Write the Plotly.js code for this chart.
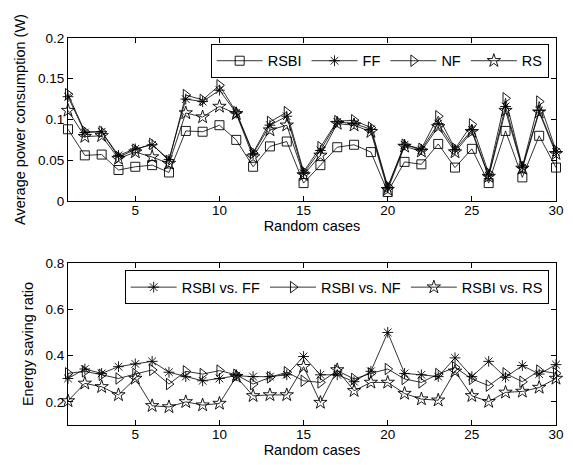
<!DOCTYPE html>
<html>
<head>
<meta charset="utf-8">
<script src="https://cdn.plot.ly/plotly-3.0.1.min.js"></script>
<style>html,body{margin:0;padding:0;background:#fff;}#chart{width:573px;height:465px;}</style>
</head>
<body>
<div id="chart"></div>
<script>
const cases = Array.from({length: 30}, (_, i) => i + 1);

const powerRSBI = [0.088,0.056,0.057,0.038,0.042,0.044,0.035,0.086,0.085,0.093,0.075,0.042,0.067,0.073,0.022,0.044,0.066,0.069,0.060,0.011,0.048,0.045,0.070,0.041,0.064,0.022,0.086,0.029,0.080,0.041];
const powerFF   = [0.128,0.084,0.085,0.056,0.064,0.069,0.051,0.125,0.122,0.136,0.108,0.058,0.093,0.104,0.034,0.062,0.097,0.095,0.088,0.016,0.069,0.063,0.095,0.063,0.087,0.031,0.116,0.041,0.111,0.060];
const powerNF   = [0.131,0.085,0.085,0.054,0.063,0.070,0.049,0.130,0.124,0.142,0.109,0.059,0.097,0.109,0.036,0.066,0.098,0.099,0.090,0.018,0.069,0.064,0.104,0.064,0.094,0.034,0.126,0.042,0.122,0.062];
const powerRS   = [0.111,0.079,0.080,0.052,0.060,0.054,0.046,0.108,0.103,0.116,0.107,0.054,0.087,0.093,0.032,0.056,0.095,0.093,0.085,0.014,0.067,0.061,0.091,0.060,0.085,0.030,0.111,0.040,0.109,0.058];

const ratioFF = [0.301,0.342,0.323,0.352,0.364,0.375,0.328,0.309,0.291,0.301,0.313,0.309,0.309,0.317,0.396,0.317,0.317,0.287,0.332,0.500,0.323,0.317,0.309,0.390,0.309,0.375,0.306,0.357,0.320,0.361];
const ratioNF = [0.323,0.332,0.317,0.301,0.320,0.338,0.277,0.332,0.320,0.335,0.317,0.277,0.306,0.328,0.291,0.284,0.335,0.299,0.323,0.342,0.299,0.284,0.320,0.349,0.299,0.270,0.323,0.287,0.335,0.323];
const ratioRS = [0.204,0.280,0.265,0.230,0.301,0.183,0.178,0.200,0.186,0.193,0.309,0.226,0.230,0.230,0.352,0.197,0.338,0.248,0.284,0.284,0.236,0.212,0.207,0.332,0.226,0.201,0.241,0.245,0.262,0.301];

const topNames = ['RSBI', 'FF', 'NF', 'RS'];
const bottomNames = ['RSBI vs. FF', 'RSBI vs. NF', 'RSBI vs. RS'];

const FONT = 'Liberation Sans, Arial, sans-serif';
function mk(sym, size) {
  return {symbol: sym, size: size, color: 'black', line: {width: 0.9, color: 'black'}};
}
const ln = {color: 'black', width: 0.8};

const traces = [
  {x: cases, y: powerRSBI, name: topNames[0], mode: 'lines+markers', line: ln, marker: mk('square-open', 9), xaxis: 'x', yaxis: 'y', legend: 'legend', cliponaxis: false},
  {x: cases, y: powerFF, name: topNames[1], mode: 'lines+markers', line: ln, marker: mk('asterisk-open', 9), xaxis: 'x', yaxis: 'y', legend: 'legend', cliponaxis: false},
  {x: cases, y: powerNF, name: topNames[2], mode: 'lines+markers', line: ln, marker: mk('triangle-right-open', 10), xaxis: 'x', yaxis: 'y', legend: 'legend', cliponaxis: false},
  {x: cases, y: powerRS, name: topNames[3], mode: 'lines+markers', line: ln, marker: mk('star-open', 10), xaxis: 'x', yaxis: 'y', legend: 'legend', cliponaxis: false},
  {x: cases, y: ratioFF, name: bottomNames[0], mode: 'lines+markers', line: ln, marker: mk('asterisk-open', 9), xaxis: 'x2', yaxis: 'y2', legend: 'legend2', cliponaxis: false},
  {x: cases, y: ratioNF, name: bottomNames[1], mode: 'lines+markers', line: ln, marker: mk('triangle-right-open', 10), xaxis: 'x2', yaxis: 'y2', legend: 'legend2', cliponaxis: false},
  {x: cases, y: ratioRS, name: bottomNames[2], mode: 'lines+markers', line: ln, marker: mk('star-open', 10), xaxis: 'x2', yaxis: 'y2', legend: 'legend2', cliponaxis: false}
];

const axBase = {
  showline: true, linecolor: 'black', linewidth: 1, mirror: 'ticks',
  ticks: 'inside', ticklen: 5, tickcolor: 'black', tickwidth: 1,
  showgrid: false, zeroline: false,
  tickfont: {family: FONT, size: 13.5, color: 'black'}
};
const xBase = Object.assign({}, axBase, {range: [1, 30], tickvals: [5, 10, 15, 20, 25, 30], ticklabelstandoff: -3,
  title: {text: 'Random cases', font: {family: FONT, size: 14.5, color: 'black'}, standoff: 0}});

const legBase = {
  orientation: 'h', xref: 'paper', yref: 'paper', xanchor: 'right', yanchor: 'top',
  bgcolor: 'white', bordercolor: 'black', borderwidth: 1, itemwidth: 46,
  font: {family: FONT, size: 14.5, color: 'black'}
};

const layout = {
  width: 573, height: 465,
  paper_bgcolor: 'white', plot_bgcolor: 'white',
  margin: {l: 68, r: 17, t: 38, b: 40},
  showlegend: true,
  xaxis: Object.assign({}, xBase, {domain: [0, 1], anchor: 'y'}),
  yaxis: Object.assign({}, axBase, {domain: [0.5788, 1], range: [0, 0.2], tickvals: [0, 0.05, 0.1, 0.15, 0.2], ticktext: ['0', '0.05', '0.1', '0.15', '0.2'],
    title: {text: 'Average power consumption (W)', font: {family: FONT, size: 14.5, color: 'black'}, standoff: 8}, anchor: 'x'}),
  xaxis2: Object.assign({}, xBase, {domain: [0, 1], anchor: 'y2'}),
  yaxis2: Object.assign({}, axBase, {domain: [0, 0.4186], range: [0.1, 0.8], tickvals: [0.2, 0.4, 0.6, 0.8], ticktext: ['0.2', '0.4', '0.6', '0.8'],
    title: {text: 'Energy saving ratio', font: {family: FONT, size: 14.5, color: 'black'}, standoff: 8}, anchor: 'x2'}),
  legend: Object.assign({}, legBase, {x: 0.985, y: 0.985}),
  legend2: Object.assign({}, legBase, {x: 0.985, y: 0.40})
};

Plotly.newPlot('chart', traces, layout, {staticPlot: true, displayModeBar: false});
</script>
</body>
</html>
